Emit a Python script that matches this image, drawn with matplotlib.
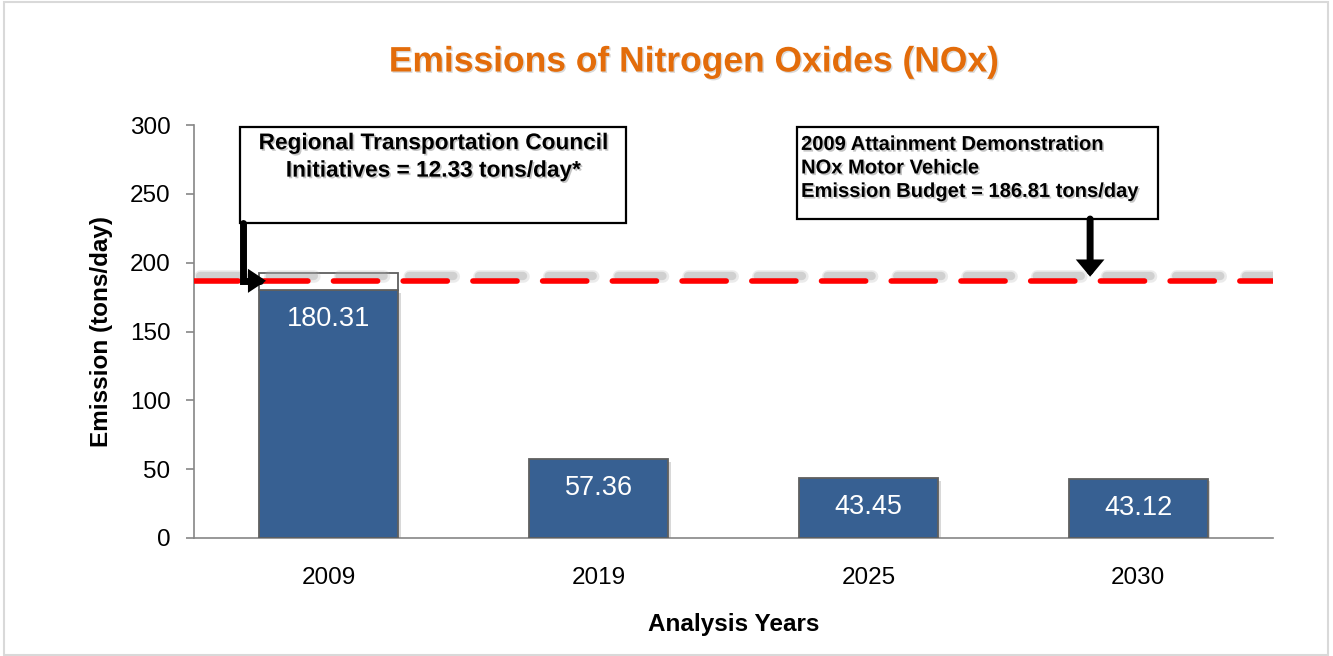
import matplotlib
matplotlib.use("Agg")
import matplotlib.pyplot as plt
import matplotlib.patheffects as pe
from matplotlib.patches import Rectangle

plt.rcParams['font.family'] = ['Liberation Sans', 'DejaVu Sans']

# ---- data ----
years = ["2009", "2019", "2025", "2030"]
emissions = [180.31, 57.36, 43.45, 43.12]
rtc_initiatives = [12.33, 0, 0, 0]  # stacked on top of 2009 bar
budget = 186.81
title = "Emissions of Nitrogen Oxides (NOx)"
ylabel = "Emission (tons/day)"
xlabel = "Analysis Years"
yticks = [0, 50, 100, 150, 200, 250, 300]
box1_text = "Regional Transportation Council\nInitiatives = 12.33 tons/day*"
box2_text = "2009 Attainment Demonstration\nNOx Motor Vehicle\nEmission Budget = 186.81 tons/day"

W, H = 1333, 656
fig = plt.figure(figsize=(W / 100, H / 100), dpi=100)
fig.patch.set_facecolor("white")

# figure border
fig.patches.append(Rectangle((4 / W, 0.002), (1328 - 4) / W, 1 - 2 / H - 0.002,
                             transform=fig.transFigure, fill=False,
                             edgecolor="#d9d9d9", lw=1.5))

ax = fig.add_axes([194 / W, 1 - 538 / H, (1273 - 194) / W, (538 - 125) / H])

x = list(range(len(years)))
bar_w = 0.515
shadow = [pe.SimplePatchShadow(offset=(2, -2), shadow_rgbFace="#808080", alpha=0.3), pe.Normal()]

bars = ax.bar(x, emissions, width=bar_w, color="#376092", edgecolor="#5f5f5f",
              linewidth=1.3, zorder=3)
for b in bars:
    b.set_path_effects(shadow)

# white stacked segment (2009 RTC initiatives)
tops = ax.bar(x, rtc_initiatives, bottom=emissions, width=bar_w, color="white",
              edgecolor="#5f5f5f", linewidth=1.3, zorder=3)
for b, v in zip(tops, rtc_initiatives):
    if v == 0:
        b.set_visible(False)

# value labels
for xi, v in zip(x, emissions):
    ax.annotate(f"{v:.2f}", xy=(xi, v), xytext=(0, -21), textcoords="offset points",
                ha="center", va="center", color="white", fontsize=19.5, zorder=5)

# budget line with soft shadow
line_shadow = [
    pe.SimpleLineShadow(offset=(4.5, 3.5), shadow_color="#b0b0b0", alpha=0.25, linewidth=9),
    pe.SimpleLineShadow(offset=(4.5, 3.5), shadow_color="#a0a0a0", alpha=0.35, linewidth=6),
    pe.Normal(),
]
ax.plot([-0.5, 3.5], [budget, budget], color="#ff0000", lw=4,
        linestyle=(0, (7.95, 4.6)), solid_capstyle="round", dash_capstyle="round",
        zorder=4, path_effects=line_shadow)

ax.set_xlim(-0.5, 3.5)
ax.set_ylim(0, 300)
ax.set_yticks(yticks)
ax.set_xticks(x)
ax.set_xticklabels(years)

for s in ["top", "right"]:
    ax.spines[s].set_visible(False)
for s in ["left", "bottom"]:
    ax.spines[s].set_color("#868686")
    ax.spines[s].set_linewidth(1.2)

ax.tick_params(axis="y", length=6, width=1.2, color="#868686", pad=11, labelsize=17.5)
ax.tick_params(axis="x", length=0, pad=21, labelsize=17.5)

ax.set_ylabel(ylabel, fontsize=17.5, fontweight="bold", labelpad=12)
ax.set_xlabel(xlabel, fontsize=17.5, fontweight="bold", labelpad=17)

# title
fig.text(694 / W, 1 - 62 / H, title, ha="center", va="center", fontsize=25.5,
         fontweight="bold", color="#E36C0A",
         path_effects=[pe.withSimplePatchShadow(offset=(1, -1), shadow_rgbFace="#a0a0a0", alpha=0.4)])

txt_fx = [pe.withSimplePatchShadow(offset=(1.2, -1.2), shadow_rgbFace="#808080", alpha=0.45)]

# annotation box 1
ax.add_patch(Rectangle((0.0426, 0.7627), 0.4004 - 0.0426, 0.995 - 0.7627,
                       transform=ax.transAxes, fill=True, facecolor="white",
                       edgecolor="black", lw=1.6, clip_on=False, zorder=6))
ax.text((0.0426 + 0.4004) / 2, 0.924, box1_text, transform=ax.transAxes,
        ha="center", va="center", fontsize=16.3, fontweight="bold", linespacing=1.25,
        zorder=7, path_effects=txt_fx)

# annotation box 2
ax.add_patch(Rectangle((0.5589, 0.7724), 0.8934 - 0.5589, 0.995 - 0.7724,
                       transform=ax.transAxes, fill=True, facecolor="white",
                       edgecolor="black", lw=1.6, clip_on=False, zorder=6))
ax.text(0.5626, 0.896, box2_text, transform=ax.transAxes,
        ha="left", va="center", fontsize=14.5, fontweight="bold", linespacing=1.3,
        zorder=7, path_effects=txt_fx)

# arrows
ax.annotate("", xy=(-0.233, budget), xycoords="data",
            xytext=(0.0454, 0.7627), textcoords="axes fraction",
            arrowprops=dict(arrowstyle="-|>,head_length=0.3,head_width=0.2",
                            connectionstyle="angle,angleA=90,angleB=0,rad=0",
                            color="black", lw=5, mutation_scale=20,
                            shrinkA=0, shrinkB=0, joinstyle="miter"),
            zorder=8, annotation_clip=False)
ax.annotate("", xy=(2.822, budget + 3), xycoords="data",
            xytext=(2.822, 0.7724), textcoords=("data", "axes fraction"),
            arrowprops=dict(arrowstyle="-|>,head_length=0.3,head_width=0.25",
                            color="black", lw=5, mutation_scale=20,
                            shrinkA=0, shrinkB=0, joinstyle="miter"),
            zorder=8, annotation_clip=False)

fig.savefig("out.png", dpi=100)
